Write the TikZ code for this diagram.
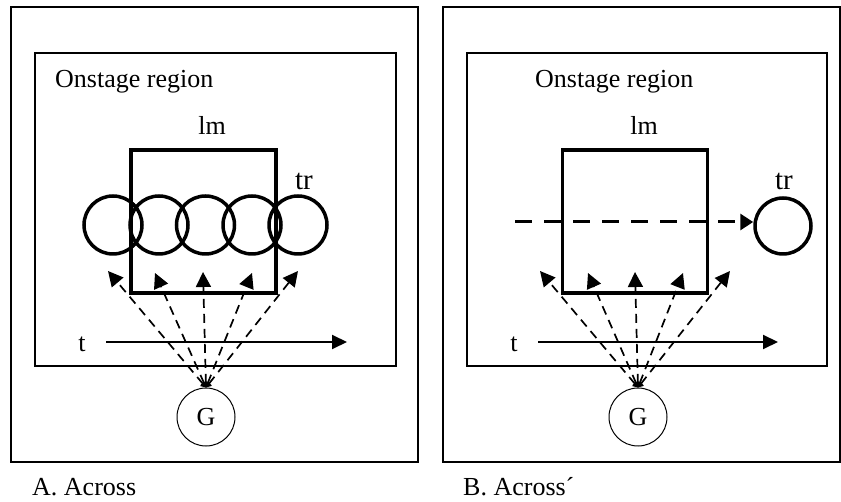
\documentclass[tikz,border=0pt]{standalone}
\usepackage{fontspec}
\setmainfont{Liberation Serif}
\usetikzlibrary{arrows.meta}
\begin{document}
\begin{tikzpicture}[x=1pt,y=-1pt,
  every node/.style={font=\fontsize{26}{30}\selectfont},
  outerbox/.style={draw,line width=2pt},
  innerbox/.style={draw,line width=1.3pt},
  lmbox/.style={draw,line width=3.6pt,minimum width=145pt,minimum height=143pt,inner sep=0pt},
  ring/.style={draw,line width=3.5pt,circle,minimum size=58pt,inner sep=0pt},
  bigring/.style={draw,line width=3.5pt,circle,minimum size=56pt,inner sep=0pt},
  gnode/.style={draw,line width=1pt,circle,minimum size=58pt,inner sep=0pt},
  fan/.style={line width=1.7pt,dash pattern=on 9pt off 6pt,
    {Triangle[length=5pt,width=7pt]}-{Triangle[length=15pt,width=15pt]}},
  timearrow/.style={line width=2pt,-{Triangle[length=15pt,width=14pt]}},
  path/.style={line width=3pt,dash pattern=on 17pt off 12pt,-{Triangle[length=13pt,width=16pt]}},
  lbl/.style={inner sep=0pt}
]
\useasboundingbox (0,0) rectangle (841,502);

% ---------------- Panel A ----------------
\draw[outerbox] (11,7) rectangle (418,462);
\draw[innerbox] (35,53) rectangle (396,366);
\node[lbl,anchor=base west] (onA) at (55,88) {Onstage region};
\node[lbl,anchor=base] (lmA) at (212,135) {lm};
\node[lmbox] (sqA) at (203.5,221.5) {};
\node[ring] (c1) at (113,225) {};
\node[ring] (c2) at (159,225) {};
\node[ring] (c3) at (205.5,225) {};
\node[ring] (c4) at (252,225) {};
\node[ring] (c5) at (298,225) {};
\node[lbl,anchor=base,font=\fontsize{29}{32}\selectfont] (trA) at (304,190) {tr};
\node[lbl,anchor=base] (tA) at (82,352) {t};
\coordinate (tAs) at (106,342);
\coordinate (tAe) at (347,342);
\draw[timearrow] (tAs) -- (tAe);
\node[gnode] (GA) at (206,417) {G};
\coordinate (a1) at (108,271);
\coordinate (a2) at (155,273);
\coordinate (a3) at (203,272);
\coordinate (a4) at (252,273);
\coordinate (a5) at (298,271);
\foreach \t in {a1,a2,a3,a4,a5} \draw[fan] (GA.north) -- (\t);
\node[lbl,anchor=base west] (capA) at (32,495) {A. Across};

% ---------------- Panel B ----------------
\draw[outerbox] (443,7) rectangle (840,462);
\draw[innerbox] (467,53) rectangle (827,366);
\node[lbl,anchor=base west] (onB) at (535,88) {Onstage region};
\node[lbl,anchor=base] (lmB) at (644,135) {lm};
\node[lmbox] (sqB) at (635,221.5) {};
\node[bigring] (trc) at (783,226) {};
\node[lbl,anchor=base,font=\fontsize{29}{32}\selectfont] (trB) at (784,190) {tr};
\coordinate (pB) at (515,222);
\draw[path] (pB) -- (trc.west |- pB);
\node[lbl,anchor=base] (tB) at (514,352) {t};
\coordinate (tBs) at (538,342);
\coordinate (tBe) at (778,342);
\draw[timearrow] (tBs) -- (tBe);
\node[gnode] (GB) at (638,417) {G};
\coordinate (b1) at (540,271);
\coordinate (b2) at (588,273);
\coordinate (b3) at (635,272);
\coordinate (b4) at (683,273);
\coordinate (b5) at (730,271);
\foreach \t in {b1,b2,b3,b4,b5} \draw[fan] (GB.north) -- (\t);
\node[lbl,anchor=base west] (capB) at (463,495) {B. Across´};
\end{tikzpicture}
\end{document}
